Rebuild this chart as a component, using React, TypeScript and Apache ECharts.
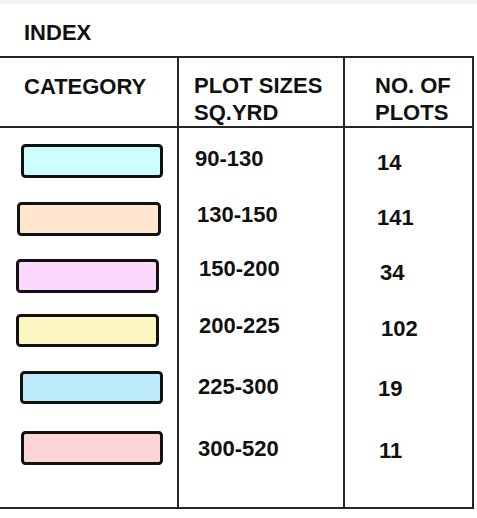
import React, { useEffect, useRef } from "react";
import * as echarts from "echarts";

const title = "INDEX";
const headers = [["CATEGORY"], ["PLOT SIZES", "SQ.YRD"], ["NO. OF", "PLOTS"]];
const plotSizes = ["90-130", "130-150", "150-200", "200-225", "225-300", "300-520"];
const plotCounts = [14, 141, 34, 102, 19, 11];
const categoryColors = ["#ccfdff", "#fee5cd", "#fbd9fc", "#fcf7c0", "#bdeafb", "#fed5d6"];

// layout (positions only)
const swatchBoxes = [
  [21, 144, 142, 34],
  [17, 202, 144, 34],
  [16, 259, 143, 34],
  [16, 314, 143, 33],
  [20, 371, 143, 33],
  [21, 431, 142, 34],
];
const sizeTextPos = [
  [195, 158],
  [197, 214],
  [199, 268],
  [199, 325],
  [198, 386],
  [198, 448],
];
const countTextPos = [
  [377, 162],
  [377, 217],
  [380, 272],
  [381, 328],
  [378, 388],
  [379, 450],
];

const FONT = "Liberation Sans, Arial, sans-serif";
const FS = 22;

export default function App() {
  const ref = useRef<HTMLDivElement>(null);
  useEffect(() => {
    if (!ref.current) return;
    const chart = echarts.init(ref.current, null, { renderer: "svg" });
    const lineStyle = { stroke: "#262626", lineWidth: 2 };
    const textStyle = (t: string, x: number, y: number, size = FS) => ({
      type: "text",
      x,
      y,
      style: {
        text: t,
        fill: "#111",
        font: `bold ${size}px ${FONT}`,
        textAlign: "left",
        textVerticalAlign: "middle",
      },
    });
    const elements: any[] = [];
    elements.push({ type: "rect", shape: { x: 0, y: 0, width: 477, height: 4 }, style: { fill: "#f3f3f3" } });
    elements.push(textStyle(title, 24, 32));
    // table lines
    elements.push({ type: "line", shape: { x1: 0, y1: 57, x2: 474, y2: 57 }, style: lineStyle });
    elements.push({ type: "line", shape: { x1: 0, y1: 127, x2: 474, y2: 127 }, style: lineStyle });
    elements.push({ type: "line", shape: { x1: 0, y1: 508, x2: 474, y2: 508 }, style: lineStyle });
    elements.push({ type: "line", shape: { x1: 178, y1: 57, x2: 178, y2: 508 }, style: lineStyle });
    elements.push({ type: "line", shape: { x1: 344, y1: 57, x2: 344, y2: 508 }, style: lineStyle });
    elements.push({ type: "line", shape: { x1: 473, y1: 57, x2: 473, y2: 508 }, style: lineStyle });
    // headers
    const headerX = [24, 194, 375];
    headers.forEach((lines, i) => {
      if (lines.length === 1) {
        elements.push(textStyle(lines[0], headerX[i], 86));
      } else {
        elements.push(textStyle(lines[0], headerX[i], 85));
        elements.push(textStyle(lines[1], headerX[i], 112));
      }
    });
    // rows
    plotSizes.forEach((s, i) => {
      const [x, y, w, h] = swatchBoxes[i];
      elements.push({
        type: "rect",
        shape: { x: x + 1.5, y: y + 1.5, width: w - 3, height: h - 3, r: 3 },
        style: { fill: categoryColors[i], stroke: "#111", lineWidth: 3 },
      });
      elements.push(textStyle(s, sizeTextPos[i][0], sizeTextPos[i][1]));
      elements.push(textStyle(String(plotCounts[i]), countTextPos[i][0], countTextPos[i][1]));
    });
    chart.setOption({
      animation: false,
      backgroundColor: "#ffffff",
      graphic: elements,
    });
    return () => chart.dispose();
  }, []);
  return <div ref={ref} style={{ position: "fixed", left: 0, top: 0, width: 477, height: 518 }} />;
}
